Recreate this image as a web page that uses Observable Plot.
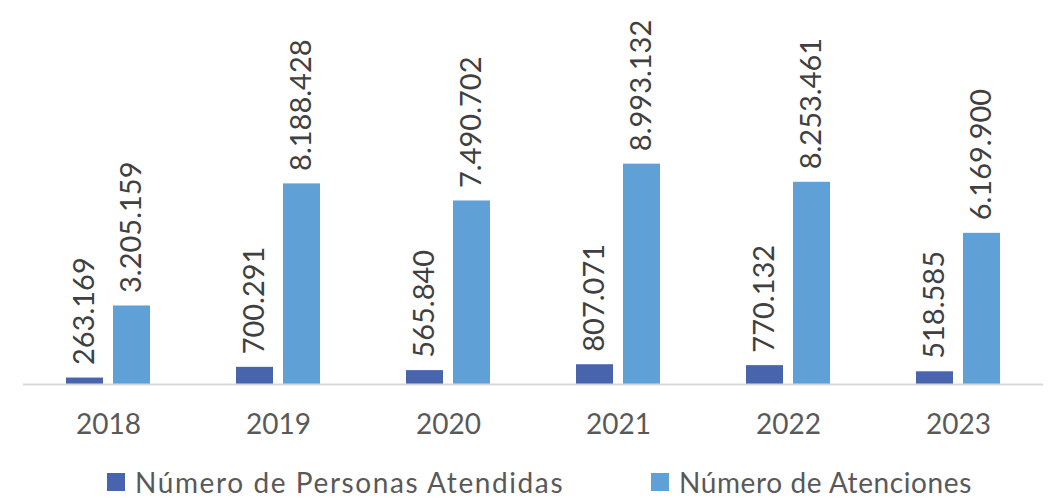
<!DOCTYPE html>
<html><head><meta charset="utf-8">
<script src="https://cdn.jsdelivr.net/npm/d3@7"></script>
<script src="https://cdn.jsdelivr.net/npm/@observablehq/plot@0.6"></script>
<style>
body{margin:0;background:#fff;font-family:Lato,"Open Sans",sans-serif;color:#595959}
#wrap{position:relative;width:1050px;height:503px}
#chart{position:absolute;left:0;top:0}
.leg{position:absolute;top:465px;font-size:28px;color:#595959;display:flex;align-items:center;white-space:nowrap}
.sw{width:18px;height:18px;margin-right:10px;display:inline-block}
#chart text.lbl{letter-spacing:1.1px}
</style></head>
<body><div id="wrap"><div id="chart"></div>
<div class="leg" style="left:107px;letter-spacing:1.6px"><span class="sw" style="background:#4864ad"></span>Número de Personas Atendidas</div>
<div class="leg" style="left:651px;letter-spacing:0.6px"><span class="sw" style="background:#5fa0d6"></span>Número de Atenciones</div>
</div>
<script>
const years = ["2018","2019","2020","2021","2022","2023"];
const series = ["Número de Personas Atendidas","Número de Atenciones"];
const personas = [263169,700291,565840,807071,770132,518585];
const atenciones = [3205159,8188428,7490702,8993132,8253461,6169900];
const colors = ["#4864ad","#5fa0d6"];

const data = [];
years.forEach((y,i)=>{
  data.push({year:y, serie:series[0], value:personas[i]});
  data.push({year:y, serie:series[1], value:atenciones[i]});
});
const fmt = d3.formatLocale({decimal:",", thousands:".", grouping:[3], currency:["",""]}).format(",d");

const chart = Plot.plot({
  width:1050, height:455,
  marginTop:139, marginBottom:71, marginLeft:23, marginRight:7,
  style:{fontFamily:"Lato, 'Open Sans', sans-serif", color:"#595959", background:"#fff"},
  fx:{domain:years, padding:0, label:null},
  x:{domain:series, axis:null, paddingInner:0.208, paddingOuter:0.875},
  y:{domain:[0,10000000], axis:null},
  color:{domain:series, range:colors},
  marks:[
    Plot.barY(data,{fx:"year", x:"serie", y:"value", fill:"serie"}),
    Plot.ruleY([0],{stroke:"#d9d9d9", strokeWidth:2}),
    Plot.text(data,{fx:"year", x:"serie", y:"value", text:d=>fmt(d.value), rotate:-90, textAnchor:"start", lineAnchor:"middle", dy:-13, fontSize:29, fill:"#404040", className:"lbl"}),
    Plot.axisFx({anchor:"bottom", tickSize:0, tickPadding:30, fontSize:28, label:null, color:"#595959"})
  ]
});
document.getElementById("chart").appendChild(chart);
</script></body></html>
